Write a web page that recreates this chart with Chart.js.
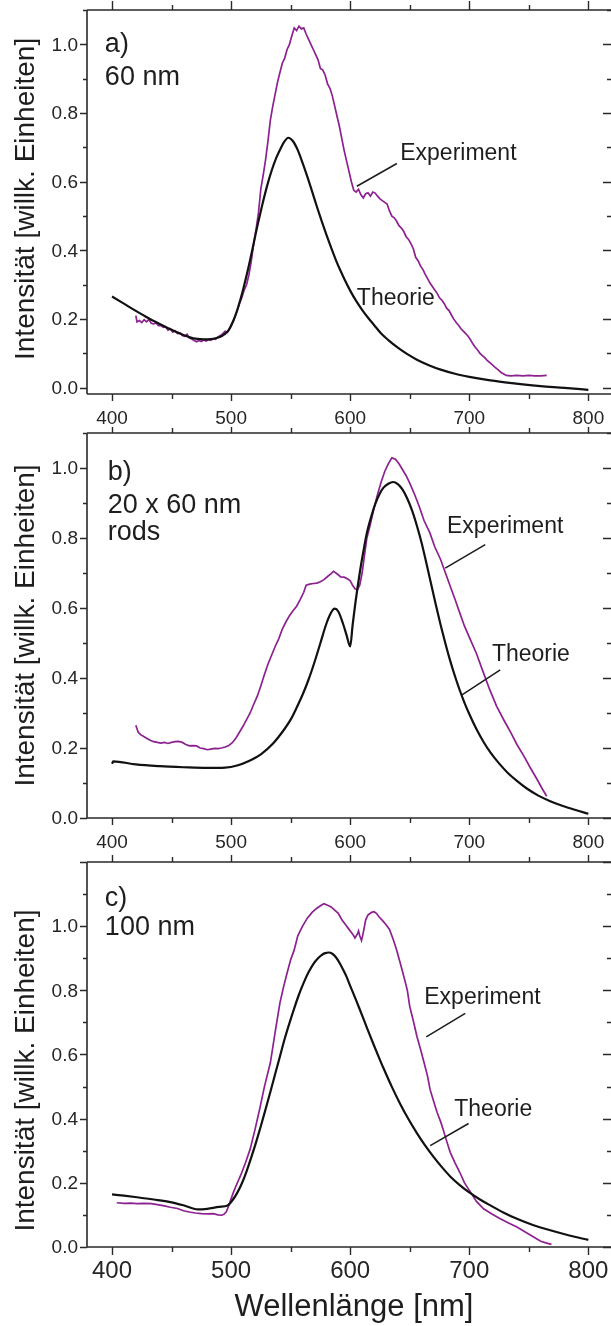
<!DOCTYPE html>
<html lang="de">
<head>
<meta charset="UTF-8">
<title>Streuspektren einzelner Goldpartikel</title>
<script src="https://cdn.jsdelivr.net/npm/chart.js@4.4.1/dist/chart.umd.min.js"></script>
<style>
  html, body { margin: 0; padding: 0; background: #fff; }
  #figure { position: relative; width: 611px; height: 1326px; overflow: hidden; }
  #figure canvas { position: absolute; left: 0; }
</style>
</head>
<body>
<div id="figure">
  <canvas id="panelA" width="611" height="430" style="top:0px"></canvas>
  <canvas id="panelB" width="611" height="440" style="top:420px"></canvas>
  <canvas id="panelC" width="611" height="476" style="top:850px"></canvas>
</div>
<script>
// tick labels
const xTicks = [400, 500, 600, 700, 800];
const yTicks = [0, 0.2, 0.4, 0.6, 0.8, 1.0];

// a) 60 nm sphere
const nmTheoryA = [400, 410, 420, 430, 440, 450, 460, 470, 480, 490, 494, 498, 502, 506, 510, 514, 518, 522, 526, 530, 534, 538, 542, 545, 548, 552, 556, 560, 564, 568, 572, 576, 580, 584, 588, 592, 596, 600, 605, 610, 615, 620, 626, 632, 640, 648, 656, 666, 676, 688, 700, 715, 730, 745, 760, 780, 800];
const theoryA = [0.266, 0.245, 0.224, 0.204, 0.186, 0.169, 0.154, 0.143, 0.141, 0.147, 0.155, 0.168, 0.196, 0.236, 0.285, 0.342, 0.405, 0.47, 0.53, 0.585, 0.632, 0.67, 0.7, 0.718, 0.728, 0.718, 0.692, 0.655, 0.615, 0.572, 0.528, 0.486, 0.446, 0.408, 0.372, 0.34, 0.31, 0.283, 0.253, 0.227, 0.204, 0.183, 0.158, 0.139, 0.117, 0.098, 0.082, 0.066, 0.053, 0.041, 0.032, 0.023, 0.016, 0.01, 0.005, 0.0, -0.006];
const nmExpA = [420, 421, 423, 425, 427, 429, 431, 433, 435, 437, 439, 441, 443, 445, 447, 449, 451, 453, 455, 457, 459, 461, 463, 465, 467, 469, 471, 473, 475, 477, 479, 481, 483, 485, 487, 489, 491, 493, 495, 497, 499, 501, 503, 505, 507, 509, 511, 513, 515, 517, 519, 521, 523, 525, 527, 529, 531, 533, 535, 537, 539, 541, 543, 545, 547, 549, 551, 553, 555, 557, 559, 561, 563, 565, 567, 569, 571, 573, 575, 577, 579, 581, 583, 585, 587, 589, 591, 593, 595, 597, 599, 601, 603, 605, 607, 609, 611, 613, 615, 617, 619, 621, 623, 625, 627, 629, 631, 633, 635, 637, 639, 641, 643, 645, 647, 649, 651, 653, 655, 657, 659, 661, 663, 665, 667, 669, 671, 673, 675, 677, 679, 681, 683, 685, 687, 689, 691, 693, 695, 697, 699, 701, 703, 705, 707, 709, 711, 713, 715, 717, 719, 721, 723, 725, 727, 729, 731, 735, 740, 745, 750, 755, 760, 765];
const expA = [0.21, 0.192, 0.196, 0.19, 0.198, 0.192, 0.199, 0.188, 0.186, 0.189, 0.181, 0.182, 0.176, 0.178, 0.168, 0.172, 0.162, 0.166, 0.158, 0.16, 0.152, 0.15, 0.156, 0.145, 0.142, 0.138, 0.134, 0.138, 0.135, 0.139, 0.136, 0.14, 0.138, 0.143, 0.141, 0.148, 0.152, 0.158, 0.165, 0.162, 0.175, 0.19, 0.205, 0.222, 0.245, 0.262, 0.285, 0.3, 0.33, 0.37, 0.42, 0.462, 0.51, 0.58, 0.62, 0.665, 0.72, 0.78, 0.82, 0.855, 0.89, 0.918, 0.945, 0.96, 0.985, 1.0, 1.025, 1.048, 1.04, 1.053, 1.045, 1.048, 1.03, 1.015, 1.0, 0.985, 0.97, 0.955, 0.93, 0.925, 0.91, 0.885, 0.872, 0.85, 0.82, 0.79, 0.76, 0.725, 0.69, 0.66, 0.63, 0.6, 0.575, 0.57, 0.578, 0.562, 0.553, 0.565, 0.568, 0.558, 0.57, 0.567, 0.558, 0.55, 0.545, 0.54, 0.535, 0.515, 0.5, 0.495, 0.485, 0.472, 0.465, 0.455, 0.44, 0.432, 0.42, 0.405, 0.38, 0.37, 0.355, 0.345, 0.33, 0.318, 0.305, 0.295, 0.285, 0.275, 0.262, 0.255, 0.245, 0.232, 0.225, 0.212, 0.2, 0.19, 0.182, 0.172, 0.165, 0.158, 0.15, 0.14, 0.128, 0.118, 0.11, 0.1, 0.094, 0.088, 0.08, 0.074, 0.068, 0.062, 0.056, 0.05, 0.044, 0.04, 0.036, 0.035, 0.036, 0.035, 0.036, 0.035, 0.035, 0.036];

// b) 20 x 60 nm rods
const nmTheoryB = [400, 401, 420, 440, 460, 480, 495, 505, 515, 525, 535, 545, 550, 555, 560, 565, 570, 575, 580, 584, 587, 590, 594, 597, 600, 602, 604, 608, 611, 614, 618, 621, 625, 628, 632, 636, 640, 644, 648, 652, 656, 660, 664, 668, 672, 676, 680, 684, 688, 692, 696, 700, 706, 712, 718, 725, 732, 740, 748, 758, 768, 778, 790, 800];
const theoryB = [0.155, 0.162, 0.153, 0.148, 0.145, 0.143, 0.144, 0.15, 0.163, 0.182, 0.212, 0.255, 0.281, 0.315, 0.352, 0.395, 0.445, 0.5, 0.555, 0.587, 0.598, 0.59, 0.555, 0.522, 0.49, 0.55, 0.605, 0.7, 0.76, 0.814, 0.865, 0.897, 0.928, 0.944, 0.955, 0.96, 0.954, 0.938, 0.912, 0.878, 0.835, 0.786, 0.728, 0.668, 0.608, 0.551, 0.498, 0.449, 0.405, 0.365, 0.329, 0.297, 0.254, 0.217, 0.186, 0.156, 0.13, 0.106, 0.085, 0.064, 0.048, 0.035, 0.022, 0.012];
const nmExpB = [420, 422, 424, 427, 429, 432, 435, 438, 441, 444, 447, 450, 453, 456, 459, 462, 465, 468, 471, 474, 477, 480, 483, 486, 489, 492, 495, 498, 501, 504, 507, 510, 513, 516, 519, 522, 525, 528, 531, 534, 537, 540, 543, 546, 549, 552, 555, 558, 561, 563, 566, 569, 572, 575, 578, 581, 584, 586, 588, 590, 592, 595, 598, 600, 602, 604, 606, 608, 610, 612, 614, 617, 620, 623, 626, 629, 632, 635, 638, 641, 644, 647, 650, 654, 658, 662, 667, 671, 676, 680, 684, 688, 692, 696, 701, 706, 712, 717, 723, 729, 735, 740, 746, 751, 757, 761, 765];
const expB = [0.265, 0.245, 0.238, 0.232, 0.228, 0.222, 0.218, 0.216, 0.214, 0.216, 0.213, 0.216, 0.218, 0.219, 0.216, 0.21, 0.206, 0.207, 0.206, 0.2, 0.198, 0.195, 0.197, 0.199, 0.198, 0.2, 0.203, 0.207, 0.215, 0.228, 0.245, 0.262, 0.281, 0.3, 0.325, 0.348, 0.378, 0.41, 0.44, 0.465, 0.49, 0.512, 0.54, 0.56, 0.578, 0.592, 0.605, 0.624, 0.645, 0.665, 0.668, 0.67, 0.671, 0.675, 0.681, 0.69, 0.698, 0.705, 0.7, 0.695, 0.689, 0.688, 0.683, 0.678, 0.665, 0.655, 0.652, 0.665, 0.7, 0.75, 0.8, 0.84, 0.885, 0.925, 0.96, 0.99, 1.012, 1.029, 1.025, 1.012, 0.995, 0.978, 0.957, 0.925, 0.89, 0.85, 0.814, 0.775, 0.738, 0.7, 0.662, 0.625, 0.586, 0.548, 0.509, 0.47, 0.414, 0.368, 0.319, 0.28, 0.243, 0.21, 0.176, 0.145, 0.11, 0.085, 0.062];

// c) 100 nm sphere
const nmTheoryC = [400, 410, 421, 435, 449, 460, 472, 480, 490, 497, 501, 505, 509, 513, 517, 521, 525, 529, 533, 537, 541, 545, 549, 553, 557, 561, 565, 569, 573, 576, 579, 582, 585, 588, 591, 594, 597, 600, 604, 608, 612, 616, 620, 624, 628, 635, 642, 649, 656, 663, 670, 677, 684, 692, 700, 709, 718, 729, 740, 754, 768, 784, 800];
const theoryC = [0.164, 0.16, 0.155, 0.148, 0.14, 0.13, 0.117, 0.119, 0.125, 0.129, 0.145, 0.168, 0.198, 0.236, 0.28, 0.327, 0.377, 0.43, 0.484, 0.539, 0.594, 0.649, 0.698, 0.744, 0.787, 0.824, 0.856, 0.882, 0.9, 0.91, 0.916, 0.918, 0.914, 0.903, 0.886, 0.865, 0.842, 0.814, 0.778, 0.741, 0.703, 0.665, 0.628, 0.592, 0.557, 0.499, 0.446, 0.398, 0.355, 0.316, 0.281, 0.249, 0.22, 0.193, 0.17, 0.148, 0.129, 0.107, 0.088, 0.068, 0.052, 0.036, 0.022];
const nmExpC = [404, 410, 416, 421, 427, 433, 438, 444, 449, 455, 460, 465, 470, 475, 480, 485, 489, 492, 494, 496, 498, 500, 502, 505, 508, 512, 516, 520, 524, 528, 533, 537, 541, 544, 547, 550, 553, 556, 560, 564, 568, 572, 576, 578, 581, 584, 587, 590, 593, 596, 599, 601, 603, 604, 606, 607, 608, 609.5, 611, 613, 615, 618, 620, 622, 624, 627, 630, 633, 636, 639, 642, 645, 648, 650, 653, 656, 659, 662, 665, 667, 670, 673, 676, 678, 681, 684, 688, 692, 696, 701, 706, 712, 719, 726, 733, 740, 747, 754, 760, 765, 769];
const expC = [0.138, 0.136, 0.137, 0.135, 0.136, 0.135, 0.132, 0.128, 0.124, 0.12, 0.113, 0.109, 0.106, 0.104, 0.103, 0.104, 0.1, 0.099, 0.102, 0.11, 0.129, 0.15, 0.171, 0.198, 0.223, 0.262, 0.305, 0.365, 0.43, 0.5, 0.575, 0.67, 0.761, 0.81, 0.854, 0.895, 0.926, 0.97, 1.0, 1.025, 1.043, 1.056, 1.066, 1.07, 1.065, 1.06, 1.05, 1.04, 1.02, 1.005, 0.99, 0.98, 0.97, 0.963, 0.975, 0.985, 0.97, 0.955, 0.98, 1.02, 1.035, 1.043, 1.045, 1.04, 1.03, 1.018, 1.005, 0.99, 0.96, 0.926, 0.885, 0.844, 0.8, 0.75, 0.705, 0.657, 0.617, 0.575, 0.532, 0.492, 0.455, 0.419, 0.39, 0.367, 0.33, 0.295, 0.262, 0.233, 0.2, 0.171, 0.142, 0.119, 0.103, 0.088, 0.075, 0.062, 0.047, 0.031, 0.018, 0.012, 0.008];

const PURPLE = '#8c2190';
const INK = '#1e1e1e';
const FONT = '"Liberation Sans", Arial, Helvetica, sans-serif';

const pairs = (xs, ys) => xs.map((v, i) => ({ x: v, y: ys[i] }));

// frame, ticks, labels and annotations drawn on top of the library's scales
const framePlugin = {
  id: 'frame',
  afterDatasetsDraw(chart, args, o) {
    const { ctx, chartArea: a, scales: { x, y } } = chart;
    ctx.save();
    ctx.strokeStyle = '#2a2a2a';
    ctx.lineWidth = 1.6;

    ctx.beginPath();
    ctx.moveTo(a.left, a.top); ctx.lineTo(a.right, a.top);
    ctx.moveTo(a.left, a.bottom); ctx.lineTo(a.right, a.bottom);
    ctx.moveTo(a.left, a.top); ctx.lineTo(a.left, a.bottom);
    ctx.stroke();

    // x ticks every 50 nm, top and bottom, pointing outward
    ctx.lineWidth = 1.4;
    ctx.beginPath();
    for (let v = 400; v <= 800; v += 50) {
      const px = Math.round(x.getPixelForValue(v)) + 0.5;
      const major = v % 100 === 0;
      ctx.moveTo(px, a.bottom); ctx.lineTo(px, a.bottom + (major ? o.bottomMajor : o.bottomMinor));
      ctx.moveTo(px, a.top); ctx.lineTo(px, a.top - (major ? o.topMajor : o.topMinor));
    }
    // y ticks every 0.1: outward on the left, inward on the right
    for (let k = 0; k * 0.1 <= o.yMax + 1e-9; k++) {
      const py = Math.round(y.getPixelForValue(k * 0.1)) + 0.5;
      const major = k % 2 === 0;
      ctx.moveTo(a.left, py); ctx.lineTo(a.left - (major ? 7 : 4), py);
      ctx.moveTo(a.right, py); ctx.lineTo(a.right - (major ? 8 : 4), py);
    }
    ctx.stroke();

    ctx.fillStyle = '#262626';
    ctx.font = `${o.yTickSize}px ${FONT}`;
    ctx.textAlign = 'right';
    ctx.textBaseline = 'middle';
    yTicks.forEach(v => ctx.fillText(v.toFixed(1), a.left - 9, y.getPixelForValue(v) + 1));

    ctx.font = `${o.xTickSize}px ${FONT}`;
    ctx.textAlign = 'center';
    ctx.textBaseline = 'alphabetic';
    xTicks.forEach(v => ctx.fillText(String(v), x.getPixelForValue(v), a.bottom + o.xTickBaseline));

    // axis titles
    ctx.fillStyle = INK;
    ctx.save();
    ctx.translate(34, y.getPixelForValue(0.55));
    ctx.rotate(-Math.PI / 2);
    ctx.font = `28px ${FONT}`;
    ctx.textAlign = 'center';
    ctx.fillText('Intensität [willk. Einheiten]', 0, 0);
    ctx.restore();

    if (o.xTitle) {
      ctx.font = `31px ${FONT}`;
      ctx.textAlign = 'center';
      ctx.fillText(o.xTitle, (a.left + a.right) / 2 + 5, a.bottom + 69);
    }

    // panel caption
    ctx.font = `27px ${FONT}`;
    ctx.textAlign = 'left';
    o.caption.forEach((line, i) => ctx.fillText(line, x.getPixelForValue(o.captionX), y.getPixelForValue(o.captionY[i])));

    // curve labels with leader lines
    ctx.font = `23px ${FONT}`;
    o.labels.forEach(l => ctx.fillText(l.text, x.getPixelForValue(l.x), y.getPixelForValue(l.y)));
    ctx.strokeStyle = INK;
    ctx.lineWidth = 1.6;
    ctx.beginPath();
    o.leaders.forEach(([x1, y1, x2, y2]) => {
      ctx.moveTo(x.getPixelForValue(x1), y.getPixelForValue(y1));
      ctx.lineTo(x.getPixelForValue(x2), y.getPixelForValue(y2));
    });
    ctx.stroke();
    ctx.restore();
  }
};

function makePanel(id, p) {
  return new Chart(document.getElementById(id), {
    type: 'scatter',
    data: {
      datasets: [
        {
          label: 'Theorie',
          data: pairs(p.nmTheory, p.theory),
          showLine: true,
          borderColor: '#111',
          borderWidth: 2.2,
          pointRadius: 0,
          cubicInterpolationMode: 'monotone',
          order: 0
        },
        {
          label: 'Experiment',
          data: pairs(p.nmExp, p.exp),
          showLine: true,
          borderColor: PURPLE,
          borderWidth: 1.7,
          pointRadius: 0,
          tension: 0,
          order: 1
        }
      ]
    },
    options: {
      responsive: false,
      animation: false,
      events: [],
      layout: { padding: p.padding },
      scales: {
        x: { type: 'linear', min: 379, max: 819, display: false },
        y: { type: 'linear', min: p.yMin, max: p.yMax, display: false }
      },
      plugins: {
        legend: { display: false },
        tooltip: { enabled: false },
        frame: p.frame
      }
    },
    plugins: [framePlugin]
  });
}

makePanel('panelA', {
  nmTheory: nmTheoryA, theory: theoryA, nmExp: nmExpA, exp: expA,
  yMin: -0.018, yMax: 1.1,
  padding: { left: 87, right: 0, top: 10, bottom: 36 },
  frame: {
    yMax: 1.1, topMajor: 9, topMinor: 5, bottomMajor: 7, bottomMinor: 5,
    xTickSize: 19, yTickSize: 19, xTickBaseline: 30,
    caption: ['a)', '60 nm'], captionX: 394, captionY: [0.977, 0.883],
    labels: [{ text: 'Experiment', x: 642, y: 0.663 }, { text: 'Theorie', x: 605.6, y: 0.242 }],
    leaders: [[605.6, 0.587, 639.2, 0.653]]
  }
});

makePanel('panelB', {
  nmTheory: nmTheoryB, theory: theoryB, nmExp: nmExpB, exp: expB,
  yMin: 0, yMax: 1.1,
  padding: { left: 87, right: 0, top: 13, bottom: 42 },
  frame: {
    yMax: 1.1, topMajor: 6, topMinor: 5, bottomMajor: 7, bottomMinor: 5,
    xTickSize: 19, yTickSize: 19, xTickBaseline: 30,
    caption: ['b)', '20 x 60 nm', 'rods'], captionX: 396.4, captionY: [0.966, 0.871, 0.794],
    labels: [{ text: 'Experiment', x: 681.3, y: 0.814 }, { text: 'Theorie', x: 719, y: 0.449 }],
    leaders: [[679.8, 0.714, 713.4, 0.781], [693.9, 0.352, 726, 0.423]]
  }
});

makePanel('panelC', {
  nmTheory: nmTheoryC, theory: theoryC, nmExp: nmExpC, exp: expC,
  yMin: 0, yMax: 1.2,
  padding: { left: 87, right: 0, top: 12, bottom: 79 },
  frame: {
    yMax: 1.2, topMajor: 7, topMinor: 5, bottomMajor: 8, bottomMinor: 5,
    xTickSize: 24, yTickSize: 19, xTickBaseline: 31,
    xTitle: 'Wellenlänge [nm]',
    caption: ['c)', '100 nm'], captionX: 394, captionY: [1.063, 0.973],
    labels: [{ text: 'Experiment', x: 662.2, y: 0.756 }, { text: 'Theorie', x: 687.4, y: 0.407 }],
    leaders: [[663.9, 0.655, 696.6, 0.728], [667.2, 0.316, 699.4, 0.385]]
  }
});
</script>
</body>
</html>
